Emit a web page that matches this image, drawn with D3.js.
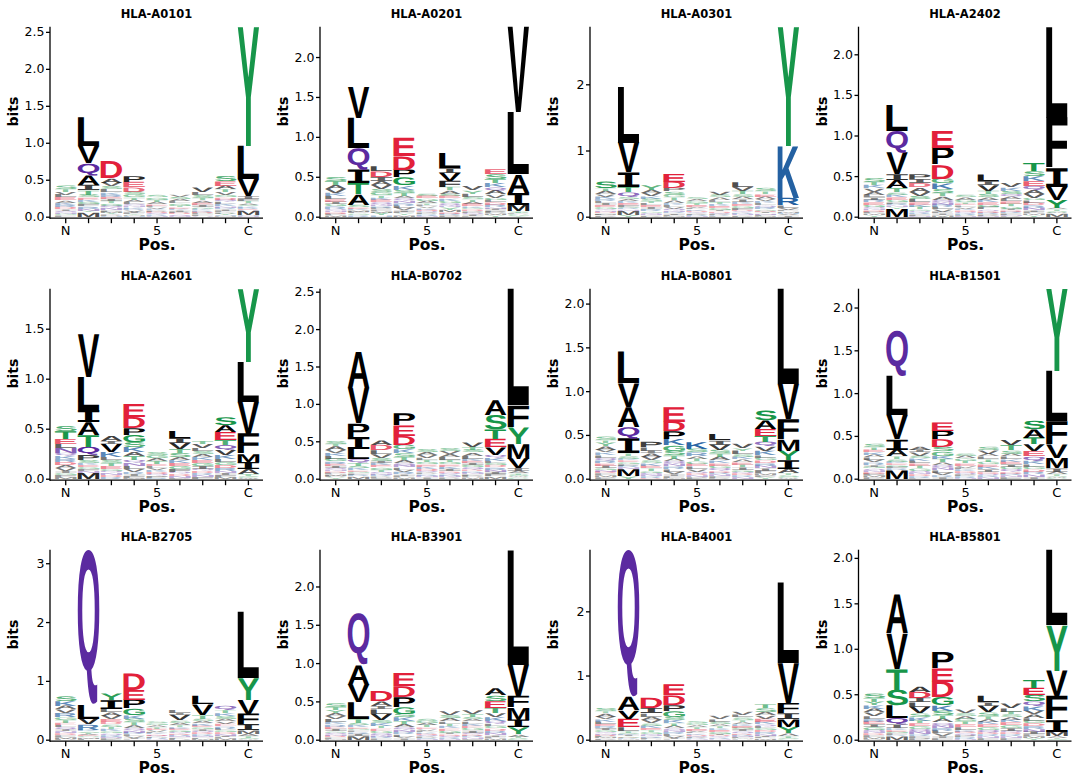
<!DOCTYPE html>
<html>
<head>
<meta charset="utf-8">
<script src="https://cdn.jsdelivr.net/npm/d3@7"></script>
<style>
  body { margin: 0; background: #fff; }
</style>
</head>
<body>
<svg id="chart" width="1080" height="783"></svg>
<script>
//! DATA: one logo per allele, 9 positions (N .. C)
// each position lists letters top -> bottom, height in 1/100 bits
const alleles = ["HLA-A0101", "HLA-A0201", "HLA-A0301", "HLA-A2402",
                 "HLA-A2601", "HLA-B0702", "HLA-B0801", "HLA-B1501",
                 "HLA-B2705", "HLA-B3901", "HLA-B4001", "HLA-B5801"];
const posLabels = ["N", "", "", "", "5", "", "", "", "C"];

const A0101 = [
  "S5 T4 V4 L4 E4 A3 K3 R3 D3 I2 Q2 N2 G2 F2",
  "L39 V23 Q16 A13 I7 T6 S4 E3 K3 G3 F3 R3 N3 Y2 M6",
  "D23 A6 V5 S4 L4 K3 R3 E3 I3 T3 G3 Q3 N3 F2 M2 Y2 P2 H1",
  "P8 E7 D6 S4 G4 T3 A3 L3 Q2 N2 K2 R2 V2 I2 F2 Y1 M1 H1",
  "S3 G3 T3 A3 E2 L2 V2 K2 P2 D2 Q2 R2 N1",
  "V3 S3 A3 L3 G3 T2 E2 K2 I2 P2 D2 Q2 N1",
  "V6 L4 S4 T3 A3 E3 I3 G2 K2 R2 D2 P2 F2 Q1",
  "S7 E6 A5 T4 V4 G3 D3 Q3 L3 K3 N2 R2 I2 F2 P2 Y2 H1 M1",
  "Y161 L45 V23 I4 F3 T3 A2 S2 K2 R2 E1 Q1 M6 H1 N1"
];
const A0201 = [
  "S5 T5 A5 V5 K4 L4 E3 I3 G3 R3 Q2 N2 D2 F2 M2",
  "V39 L38 Q27 I17 T14 A13 S3 E2 K2 M2 F2 G2 R2",
  "L6 D7 I5 A5 V5 S4 G4 T3 K3 E3 Q3 N2 R2 P2 F2 M2 Y3 H2",
  "E23 D17 P10 G10 K5 S4 T4 A3 Q3 N3 R3 L3 V3 I2 F2 Y2 M2",
  "S3 E3 G3 A3 T2 L2 V2 K2 D2 Q2 P2 R2 N1",
  "L19 I6 V10 F8 T4 A4 S3 E3 K3 G3 Q3 N2 Y3 M3 D2 R2 P2",
  "V5 Y4 L4 S3 T3 A3 E3 K2 G2 D2 P2 Q2 I2 F1",
  "E6 S6 T5 K5 Q4 A5 V4 G3 L3 D3 R3 N2 I2 F2 P2 M2 Y2",
  "V107 L78 A23 I15 M8 T2 S1 F1 C1 G1 Y1"
];
const A0301 = [
  "S10 T4 A5 V4 K4 R3 L3 I3 E3 G3 Q2 N2 D2 F2 M1 P2",
  "L85 V45 I22 T8 Q7 S3 A3 K3 E3 F3 G2 R2 N2 M6 Y3",
  "Y7 A5 V5 K4 S4 T3 L3 E3 I3 R3 G2 Q2 N2 P2",
  "E12 D10 P5 S5 G4 T4 A4 K3 L3 V3 Q3 N2 R2 I2 F2 M1",
  "S3 A3 G3 T3 E3 V2 L2 K2 D2 Q2 P2 R2 N1",
  "V5 S4 A4 L3 T3 K3 E3 G3 I2 D2 Q2 P2 R1 F1",
  "L7 V6 T5 S4 A4 I4 K3 E3 G3 F3 D2 Q2 R2 N2 P2",
  "S5 T4 E4 A4 V3 K3 L3 Q3 R3 G2 D2 I2 N2 F2 M1",
  "Y180 K79 R11 L4 V3 F2 M2 H2 A2 I2"
];
const A2402 = [
  "S5 T4 K4 V4 A4 L3 I3 R3 E3 G3 Q2 N2 D2 F2 M2 Y2",
  "L32 Q27 V27 I7 A10 T5 S3 K3 E3 G3 F2 R2 N2 Y2 M10",
  "P6 I5 D5 A5 V5 S4 L4 E3 K3 T3 G2 Q2 R2 F2 N1",
  "E21 P21 D17 G6 K7 S5 T4 A4 Q3 N3 R3 L3 V3 F2 I2 M2",
  "S3 A3 G3 T2 E2 L2 V2 K2 D2 Q2 R2 P1 N1",
  "L8 I5 V7 T4 S4 A3 K3 E3 G3 F3 Q2 D2 R2 P2 N1",
  "V5 K4 S4 Q3 A3 L3 E3 T3 G3 I2 D2 R2 F2 N1 P1",
  "T10 S6 K6 E6 Q5 A5 V5 G3 L3 D3 R3 N3 I2 F2 M2 Y2",
  "L112 F62 I23 V16 Y10 A2 T2 S1 C1 W1 M4"
];
const A2601 = [
  "S5 T8 E5 L4 N5 Q3 K3 R3 D3 A3 V3 I2 G2 F2 M2",
  "V43 L33 I12 A13 T12 Q8 P5 S3 K2 E2 G2 F2 N2 M6",
  "A5 I3 V8 K5 L3 S3 T3 E3 G2 Q2 N2 D2 R2",
  "E13 D11 P7 G7 S5 K5 A4 T4 Q3 N3 L3 V3 R2 I2 F2 M1",
  "S3 G3 A3 T3 E2 L2 V2 K2 D2 Q2 P2 R1",
  "L7 I5 V6 T4 S4 A3 K3 E3 G3 F3 Q2 D2 N2 P1",
  "T3 V4 L3 S3 A3 K3 E3 G3 I3 Q2 D2 R2 N2 F2",
  "S8 A7 E8 T5 Q5 V5 K4 L3 G3 D3 R3 N2 I2 F2 M2",
  "Y73 L40 V32 F20 M8 I7 A5 T2 S1 C1 W1"
];
const B0702 = [
  "S4 T3 A5 V4 K4 L4 G4 R3 E3 I3 Q2 N2 D2 F2 M2 P2 Y2",
  "A49 V47 P18 I16 L14 Q5 T4 S3 K3 E2 G2 F2 R2 M3",
  "A6 D7 L5 V5 S4 I3 K3 E3 G3 T3 Q2 N2 R2 P2 F1",
  "P16 E14 D12 G6 K5 S5 T4 A4 Q3 N3 L3 V3 R3 I2 F2 M2",
  "S4 A4 V4 L3 T3 G3 E3 K3 D3 Q2 P2 R2 N2 I2",
  "S4 V4 A4 L4 T3 G3 E3 K3 I3 D2 Q2 R2 N2 P2",
  "V6 T4 S4 A4 L4 K3 E3 I3 G3 Q3 D2 R2 N2 F2 P2 M2",
  "A20 S19 T13 E11 V10 Q4 K4 L3 G3 D3 R3 N3 I3 F3 M3",
  "L156 F29 Y22 M20 V13 I4 A3 T2 S2 W1 C2"
];
const B0801 = [
  "S4 T3 Y4 A4 V3 K3 L3 Q3 R3 E3 I3 G2 N2 D2 F2 M2 P2",
  "L36 V27 A23 Q13 I17 T3 S3 K2 E2 G2 F2 R2 N2 M8 Y3",
  "P6 L4 I3 A4 V4 S3 K3 E3 T3 G2 Q2 N2 R2 D1",
  "E17 D11 P9 K7 G6 S5 T4 A3 Q3 N3 R3 L3 V3 I2 F2 M1",
  "K8 S4 R4 A3 T3 G3 E3 L3 V3 Q2 D2 N2 P2",
  "L7 I5 V6 S4 T4 A4 K3 E3 G3 Q3 D2 R2 N2 F2 P1",
  "V5 Y3 L4 S3 K3 A3 E3 T3 I3 G2 Q2 D2 R2 N2",
  "S11 A10 E8 T7 Q5 V5 K5 L3 G3 D3 R3 N3 I3 F3 M2 P2 Y2",
  "L109 V40 F23 M13 Y11 I10 A5 T2 S2 C1 W1"
];
const B1501 = [
  "S4 T3 E3 K3 A3 L3 V3 R3 I2 G2 Q2 N2 D2 F2 M2 P2",
  "Q53 L46 V28 I12 A8 T3 S3 K2 E2 G2 F2 R2 M10",
  "A4 I3 V4 S3 K3 L3 E3 T3 G3 Q2 N2 D2 R2 F1",
  "E10 P10 D9 S5 G5 K4 T4 A3 Q3 N3 L3 V3 R2 I2",
  "S3 A3 G3 T3 E3 V2 L2 K2 D2 Q2 P2 R2 N1",
  "S4 V4 A3 L3 T3 G3 E3 K3 I3 D2 Q2 R2 N2",
  "V6 T6 S4 A3 L3 K3 E3 I3 G3 Q3 D2 R2 N2 F2",
  "S10 A10 T8 V8 E6 Q5 K4 L3 G3 D3 R3 N3 I2",
  "Y96 L59 F27 V16 M12 I4 A3 T2 S1 W1 C1"
];
const B2705 = [
  "S8 K8 A6 V6 R7 G5 T5 E4 L4 Q4 I3 N3 D3 F3 M3 P2",
  "Q263 L24 V10 R9 K3 S2 T2 A2 E2 G2 M2 F2",
  "Y11 I15 L6 A6 V6 E5 D4 S4 T4 K4 G3 Q3 R3 N2 P3",
  "D28 E17 P15 G11 K6 S6 T5 A5 Q4 N4 R3 L3 V3 I2 F1",
  "S3 G3 A3 T3 E3 V3 L2 K2 D2 Q2 P2 R2 N1",
  "L5 I4 V9 S4 A4 T3 K3 E3 G3 Q3 D2 R2 N2 F2 P2",
  "L14 V18 T6 S4 A4 K4 E3 G3 I3 Q3 D3 R3 N2 F2 M2",
  "Q7 T5 K5 S5 A4 V4 E4 R4 L3 G3 D3 N3 I2 F2 M3",
  "L113 Y37 V24 F18 I10 M6 A4 T3 S2 W1"
];
const B3901 = [
  "S5 T4 Y4 A4 V4 L4 K3 R3 E3 I3 G2 Q2 N2 D2 F2 M1",
  "Q67 A26 V23 L22 T5 S3 K3 E2 G2 F2 R2 I3 M5",
  "D13 A6 I4 L6 V8 S4 K4 T3 E3 G3 Q3 N2 R2 F2",
  "E17 D14 P13 G9 S5 K5 T4 A4 Q3 N3 R3 L3 V2 I2",
  "S3 G3 A3 T3 E2 V2 L2 K2 D2 Q2 P2 R1 N1",
  "V5 S4 A4 L3 T3 K3 E3 G3 I2 D2 Q2 R2 N1",
  "V5 T4 S3 A3 L3 K3 E3 G3 I3 Q2 D2 R2 N2 F1",
  "A9 S7 E9 T7 V5 K5 Q4 L3 G3 D3 R3 N3 I2 F2 M2",
  "L150 V41 F15 M16 I10 Y9 A3 T2 S1 C1"
];
const B4001 = [
  "S5 T3 A5 V4 K4 L4 E3 R3 I3 G3 Q2 N2 D2 F2 M2 P2",
  "Q229 A21 V13 E13 L6 T3 S2 K2 I2 G2 D1 R1 M1",
  "D16 I8 L5 A5 V5 S4 K4 E3 T3 G3 Q2 N2 R2 F2 P1",
  "E17 D15 P9 G9 S5 K5 T4 A4 Q3 N3 R3 L3 V3 I2 F1",
  "S3 G3 A3 T3 E3 V2 L2 K2 D2 Q2 P2 R1 N1",
  "V5 L4 S4 A3 T3 K3 E3 G3 I2 D2 Q2 R2 N1",
  "V5 L4 S4 T3 A3 K3 E3 G3 I3 Q3 D2 R2 N2 F2 M1 P1",
  "T6 S6 A5 V5 E5 K4 Q3 L3 G3 D3 R3 N3 I2 F2 M2",
  "L126 V62 F16 I9 M12 Y10 A4 T3 S2 C1"
];
const B5801 = [
  "S5 T4 Y4 K4 A4 V4 L3 R3 E3 I3 G3 Q2 N2 D2 F2 M2 P1",
  "A43 V39 T23 S17 L14 Q7 I4 K2 E2 G2 F2 R1 M4",
  "A6 D7 I5 L5 V7 S4 K4 T3 E3 G3 Q3 N3 R2 F2 P2",
  "P18 E15 D17 G9 K6 S5 T4 A4 Q3 N3 R3 L3 V3 I2 F2",
  "V4 S3 A3 G3 T3 E3 L3 K2 D2 Q2 P2 R2 N1",
  "L7 I4 V7 S4 T3 A3 K3 E3 G3 Q3 D2 R2 N2 F2",
  "V5 L4 T3 S3 A3 K3 E3 G3 I3 Q2 D2 R2 N2 F2",
  "T9 E8 S7 Q5 K5 V4 A4 L3 G3 D3 R3 N3 I3 F2 M2 Y2",
  "L83 Y50 V28 F26 I13 M5 A2 T1 S1"
];

const logos = [A0101, A0201, A0301, A2402, A2601, B0702,
               B0801, B1501, B2705, B3901, B4001, B5801];

//? chemistry colour scheme
const colorOf = {};
"AVLIMFWP".split("").forEach(c => colorOf[c] = "#000000");
"GSTYC".split("").forEach(c => colorOf[c] = "#17964a");
"NQ".split("").forEach(c => colorOf[c] = "#5b2aa0");
"KRH".split("").forEach(c => colorOf[c] = "#2461a2");
"DE".split("").forEach(c => colorOf[c] = "#e2203a");

//? layout
let svg = d3.select("#chart");
const colX = [50, 320, 590, 858.5];
const rowY = [216.7, 478.7, 739.7];
const plotH = 190;
const axisW = 213;
const axisFont = "DejaVu Sans";

// glyph font; the original draws I with bars, so it gets a mono face
function familyOf(ch) {
    return ch === "I" ? "DejaVu Sans Mono" : "Liberation Sans";
}

// ink box of each glyph, so letters can be stretched to their box
const ctx = document.createElement("canvas").getContext("2d");
const inkCache = {};
function ink(ch) {
    if (!inkCache[ch]) {
        ctx.font = "bold 100px '" + familyOf(ch) + "'";
        const m = ctx.measureText(ch);
        inkCache[ch] = {
            left: m.actualBoundingBoxLeft,
            right: m.actualBoundingBoxRight,
            asc: m.actualBoundingBoxAscent,
            desc: m.actualBoundingBoxDescent
        };
    }
    return inkCache[ch];
}

function parsePos(s) {
    return s.split(" ").map(t => ({ aa: t[0], h: +t.slice(1) / 100 }));
}

alleles.forEach(function (name, k) {
    const stacks = logos[k].map(parsePos);
    const totals = stacks.map(s => d3.sum(s, d => d.h));
    const ymax = d3.max(totals);

    const g = svg.append("g")
        .attr("transform", `translate(${colX[k % 4]},${rowY[Math.floor(k / 4)]})`);

    const x = d3.scaleBand().domain(d3.range(1, 10)).range([4.3, 209.8]);
    const y = d3.scaleLinear().domain([0, ymax]).range([0, -plotH]);

    // flatten stacks, bottom -> top
    const letters = [];
    stacks.forEach(function (stack, i) {
        let base = 0;
        stack.slice().reverse().forEach(function (d) {
            letters.push({ pos: i + 1, aa: d.aa, y0: base, y1: base + d.h });
            base += d.h;
        });
    });

    const lw = x.bandwidth() * 0.95;

    //? Letter elements
    g.append("g")
        .attr("class", "letters")
        .selectAll("text")
        .data(letters)
        .enter()
        .append("text")
        .text(d => d.aa)
        .attr("font-family", d => familyOf(d.aa))
        .attr("font-weight", "bold")
        .attr("font-size", 100)
        .attr("text-rendering", "geometricPrecision")
        .attr("fill", d => colorOf[d.aa])
        // tiny letters come out pale in the original
        .attr("fill-opacity", function (d) {
            const hpx = y(d.y0) - y(d.y1);
            return Math.max(0.35, Math.min(1, 0.2 + hpx * 0.11));
        })
        .attr("transform", function (d) {
            const m = ink(d.aa);
            const x0 = x(d.pos) + (x.bandwidth() - lw) / 2;
            const top = y(d.y1);
            const h = y(d.y0) - y(d.y1);
            const sx = lw / (m.left + m.right);
            const sy = h / (m.asc + m.desc);
            return `translate(${x0 + m.left * sx},${top + m.asc * sy}) scale(${sx},${sy})`;
        });

    //? y axis
    const step = ymax > 2.7 ? 1 : 0.5;
    const yTicks = d3.range(0, ymax + 1e-9, step);
    const yAxis = g.append("g")
        .call(d3.axisLeft(y)
            .tickValues(yTicks)
            .tickFormat(step === 1 ? d3.format("d") : d3.format(".1f"))
            .tickSize(4)
            .tickPadding(1.5));
    yAxis.select(".domain").remove();
    yAxis.attr("font-family", axisFont).attr("font-size", 12.5);
    yAxis.selectAll("line").attr("stroke-width", 1.3);
    yAxis.selectAll("text").attr("fill", "#000");

    //? x axis
    const xAxis = g.append("g")
        .attr("transform", "translate(0,1.5)")
        .call(d3.axisBottom(x)
            .tickFormat((d, i) => posLabels[i])
            .tickSize(5)
            .tickPadding(2.5)
            .tickSizeOuter(0));
    xAxis.select(".domain").remove();
    xAxis.attr("font-family", axisFont).attr("font-size", 13);
    xAxis.selectAll("line").attr("stroke-width", 1.3);
    xAxis.selectAll("text").attr("fill", "#000");

    // axis lines
    g.append("line")
        .attr("x1", 0).attr("x2", 0)
        .attr("y1", 2.2).attr("y2", -plotH)
        .attr("stroke", "black").attr("stroke-width", 1.3);
    g.append("line")
        .attr("x1", 0).attr("x2", axisW)
        .attr("y1", 1.5).attr("y2", 1.5)
        .attr("stroke", "black").attr("stroke-width", 1.3);

    //? Text elements
    g.append("text")
        .text(name)
        .attr("x", axisW / 2)
        .attr("y", -198.5)
        .attr("text-anchor", "middle")
        .attr("font-family", axisFont)
        .attr("font-weight", "bold")
        .attr("font-size", 11.5);

    g.append("text")
        .text("bits")
        .attr("transform", "translate(-31.7,-105) rotate(-90)")
        .attr("text-anchor", "middle")
        .attr("font-family", axisFont)
        .attr("font-weight", "bold")
        .attr("font-size", 14);

    g.append("text")
        .text("Pos.")
        .attr("x", x(5) + x.bandwidth() / 2)
        .attr("y", 33.8)
        .attr("text-anchor", "middle")
        .attr("font-family", axisFont)
        .attr("font-weight", "bold")
        .attr("font-size", 15.5);
});
</script>
</body>
</html>
